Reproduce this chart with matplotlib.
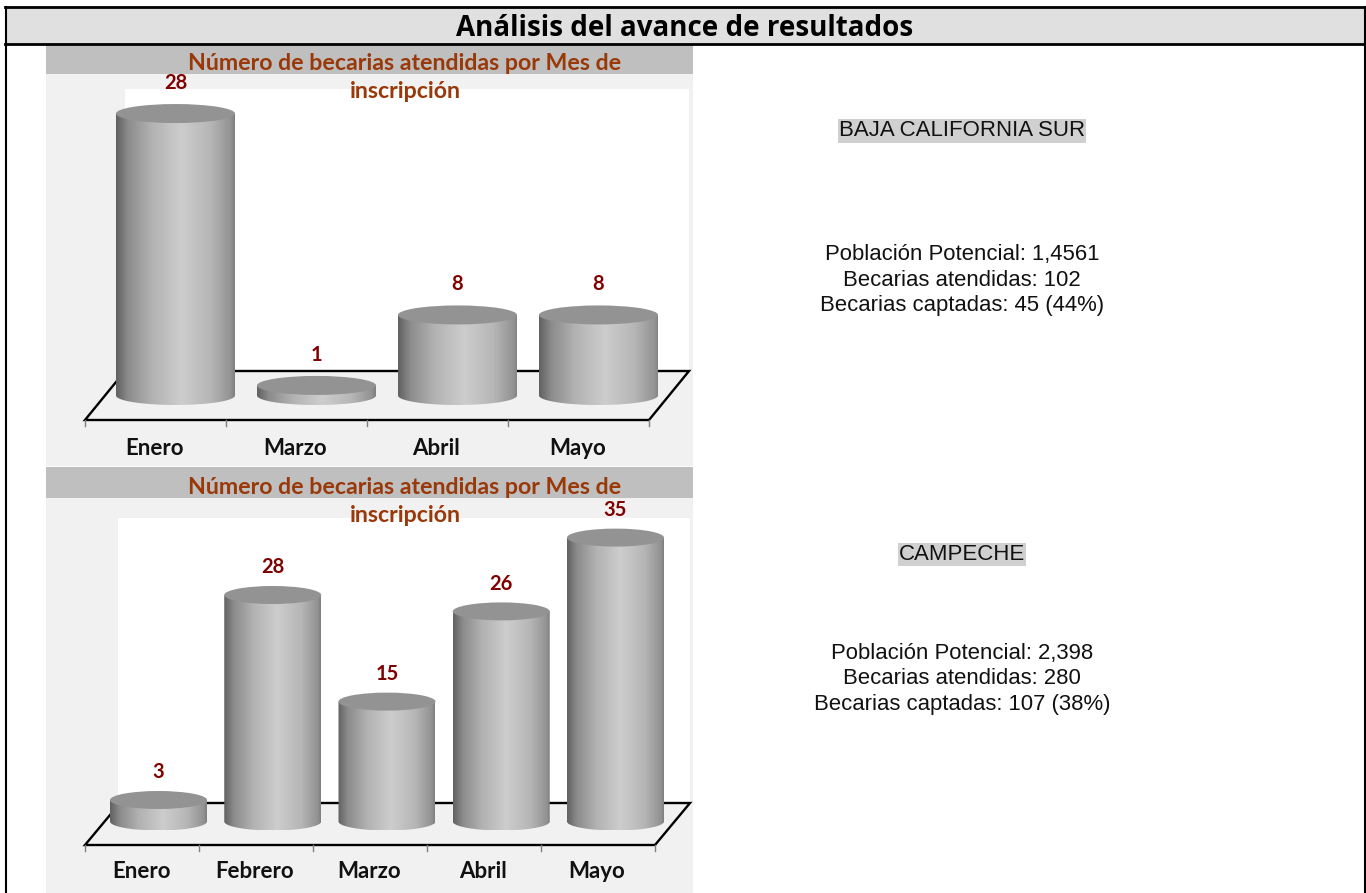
import numpy as np
import matplotlib
matplotlib.use('Agg')
import matplotlib.pyplot as plt
from matplotlib.colors import LinearSegmentedColormap
from matplotlib.patches import Ellipse, PathPatch, Rectangle
from matplotlib.path import Path

W, H = 1366, 893

# datos
meses_1 = ['Enero', 'Marzo', 'Abril', 'Mayo']
becarias_1 = [28, 1, 8, 8]
meses_2 = ['Enero', 'Febrero', 'Marzo', 'Abril', 'Mayo']
becarias_2 = [3, 28, 15, 26, 35]

titulo = 'Análisis del avance de resultados'
titulo_graf = 'Número de becarias atendidas por Mes de\ninscripción'
estado_1 = 'BAJA CALIFORNIA SUR'
resumen_1 = 'Población Potencial: 1,4561\nBecarias atendidas: 102\nBecarias captadas: 45 (44%)'
estado_2 = 'CAMPECHE'
resumen_2 = 'Población Potencial: 2,398\nBecarias atendidas: 280\nBecarias captadas: 107 (38%)'

grad = LinearSegmentedColormap.from_list('cil', [(0, '#626262'), (0.1, '#8c8c8c'), (0.3, '#b2b2b2'),
                                                 (0.55, '#cdcdcd'), (0.8, '#b6b6b6'), (0.97, '#929292'), (1, '#808080')])

fig = plt.figure(figsize=(W / 100, H / 100), dpi=100)

# fondo en pixeles
bg = fig.add_axes([0, 0, 1, 1])
bg.set_xlim(0, W)
bg.set_ylim(H, 0)
bg.axis('off')


def rect(x0, y0, x1, y1, color):
    bg.add_patch(Rectangle((x0, y0), x1 - x0, y1 - y0, fc=color, ec='none'))


rect(5, 7, 1364, 44, '#e0e0e0')
bg.plot([5, 1364], [7, 7], color='black', lw=2)
bg.plot([5, 1364], [43.5, 43.5], color='black', lw=2)
bg.plot([5.5, 5.5], [7, H], color='black', lw=1.5)
bg.plot([1364.5, 1364.5], [7, H], color='black', lw=1.5)
bg.text(685, 28, titulo, ha='center', va='center', fontsize=20, fontweight='bold', family='Open Sans')


def panel(y_top, y_band, y_bot, white_x, white_y, front_y, back_y, x0, x1, dx, meses, base_txt):
    rect(46, y_top, 693, y_bot, '#f1f1f1')
    rect(46, y_top, 693, y_band, '#bfbfbf')
    rect(white_x, white_y, x1 + dx, back_y, 'white')
    # piso
    bg.plot([x0 + dx, x1 + dx, x1, x0, x0 + dx, x0 + dx], [back_y, back_y, front_y, front_y, back_y, back_y],
            color='black', lw=1.7, solid_joinstyle='miter')
    n = len(meses)
    ticks = np.linspace(x0, x1, n + 1)
    for t in ticks:
        bg.plot([t, t], [front_y, front_y + 6], color='#808080', lw=1)
    for i, m in enumerate(meses):
        bg.text((ticks[i] + ticks[i + 1]) / 2 - 1, base_txt, m, ha='center', va='baseline',
                fontsize=16, fontweight='bold', family='Lato', color='#111111')
    lineas = titulo_graf.split('\n')
    bg.text(405, y_band - 10.5, lineas[0], ha='center', va='center', fontsize=16.7,
            fontweight='bold', family='Lato', color='#993808', zorder=9)
    bg.text(405, y_band + 17.5, lineas[1], ha='center', va='center', fontsize=16.7,
            fontweight='bold', family='Lato', color='#993808', zorder=9)


panel(44, 74, 466, 125, 89, 420, 371, 85, 649, 40, meses_1, 455)
panel(467, 498, H, 118, 518, 845, 803, 85, 655, 35, meses_2, 878)


def cilindros(valores, c0, dc, ancho, base_px, y0_px, escala, alto_elipse, sep):
    # eje transparente: x = indice de categoria, y = valor
    ax = fig.add_axes([0, 0, 1, 1], facecolor='none')
    ax.axis('off')
    xlim = (-c0 / dc, (W - c0) / dc)
    ylim = (y0_px - H) / escala, y0_px / escala
    rx = ancho / dc / 2
    ry = alto_elipse / escala / 2
    base = (y0_px - base_px) / escala
    for i, v in enumerate(valores):
        t = np.linspace(np.pi, 2 * np.pi, 40)
        abajo = np.column_stack([i + rx * np.cos(t), base + ry * np.sin(t)])
        arriba = [[i + rx, v], [i - rx, v]]
        verts = np.vstack([abajo, arriba, abajo[:1]])
        clip = PathPatch(Path(verts, closed=True), transform=ax.transData, fc='none', ec='none')
        ax.add_patch(clip)
        im = ax.imshow(np.linspace(0, 1, 200)[None, :], cmap=grad, aspect='auto', zorder=3,
                       extent=(i - rx, i + rx, base - ry, v))
        im.set_clip_path(clip)
        ax.add_patch(Ellipse((i, v), 2 * rx, 2 * ry, fc='#939393', ec='none', zorder=4))
        ax.annotate(str(v), (i, v), xytext=(0, sep), textcoords='offset points', ha='center', va='center',
                    fontsize=14.5, fontweight='bold', family='Lato', color='#800000', zorder=5)
    ax.set_xlim(xlim)
    ax.set_ylim(ylim)


cilindros(becarias_1, 175.5, 141, 119, 395.5, 395.5, 10.07, 19, 22)
cilindros(becarias_2, 158.5, 114.25, 97, 821.5, 824.6, 8.2, 18, 20)

# textos de la derecha
for y, s in [(131, estado_1), (554.5, estado_2)]:
    bg.text(962, y, s, ha='center', va='center', fontsize=16, family='Liberation Sans', color='#111111',
            bbox=dict(fc='#d0d0d0', ec='none', pad=1))
for y, s in [(280, resumen_1), (679, resumen_2)]:
    bg.text(962, y, s, ha='center', va='center', fontsize=15.9, family='Liberation Sans', color='#111111',
            linespacing=1.26)

fig.savefig('out.png', dpi=100)
